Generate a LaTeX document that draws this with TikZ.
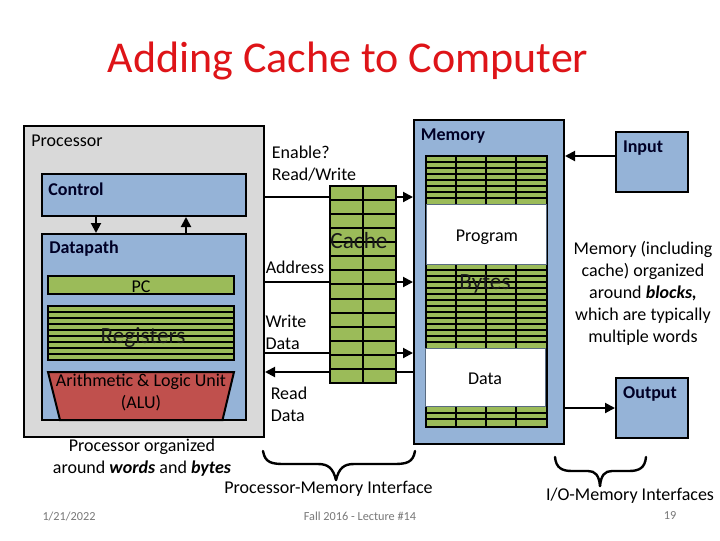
\documentclass[tikz,border=0pt]{standalone}
\usepackage{fontspec}
\setmainfont{Carlito}
\usetikzlibrary{arrows.meta}
\definecolor{slideRed}{RGB}{222,20,24}
\definecolor{boxBlue}{RGB}{149,179,215}
\definecolor{regGreen}{RGB}{155,187,89}
\definecolor{aluRed}{RGB}{192,80,77}
\definecolor{procGray}{RGB}{217,217,217}
\definecolor{footGray}{RGB}{120,120,120}
\tikzset{
  pxbox/.style 2 args={draw=black,line width=1.5pt,inner sep=0pt,minimum width=#1*0.75pt,minimum height=#2*0.75pt},
  label/.style={font=\fontsize{13.5}{16.5}\selectfont,align=center,text=black},
  head/.style={font=\fontsize{13.5}{16.5}\selectfont\bfseries,text=black!85!blue},
  overtext/.style={font=\fontsize{17.4}{20}\selectfont,text=black!90},
  foot/.style={font=\fontsize{9.2}{11}\selectfont,text=footGray},
  wire/.style={line width=1.5pt,-{Triangle[length=7.5pt,width=7.5pt]}},
  rule/.style={line width=1.5pt},
  brace/.style={line width=1.8pt,line cap=round}
}
\begin{document}
\begin{tikzpicture}[x=0.75pt,y=0.75pt,yscale=-1,xscale=1]
\useasboundingbox (0,0) rectangle (720,540);

% Title
\node (title) at (348,61) {\fontsize{33}{40}\selectfont\color{slideRed}Adding Cache to Computer};

% Boxes
\node[pxbox={240}{311},fill=procGray] (processor) at (144,281.5) {};
\node[pxbox={204}{42},fill=boxBlue] (control) at (144,195) {};
\node[pxbox={204}{186},fill=boxBlue] (datapath) at (144,327) {};
\node[pxbox={186}{18},fill=regGreen] (pc) at (141,285) {};
\node[pxbox={186}{54},fill=regGreen] (registers) at (141,333) {};
\node[pxbox={150}{324},fill=boxBlue] (memory) at (489,282) {};
\node[pxbox={72}{60},fill=boxBlue] (input) at (652,162) {};
\node[pxbox={72}{60},fill=boxBlue] (output) at (652,408) {};

% Anchors for the wires
\coordinate (ctlDown) at (96,216);
\coordinate (ctlUp) at (186,216);
\coordinate (enableY) at (264,197);
\coordinate (addressY) at (264,282);
\coordinate (writeY) at (264,353);
\coordinate (readY) at (264,372);
\coordinate (inputY) at (564,156);
\coordinate (outputY) at (564,408);

% Registers
\foreach \y in {312,318,...,354} {
  \draw[rule] (48,\y) -- (234,\y);
}
% ALU
\draw[line width=1.5pt,fill=aluRed] (48,372) -- (234,372) -- (222.5,420) -- (60,420) -- cycle;

% Wires
\draw[wire] (control.south -| ctlDown) -- (datapath.north -| ctlDown);
\draw[wire] (datapath.north -| ctlUp) -- (control.south -| ctlUp);
\draw[wire] (processor.east |- enableY) -- (memory.west |- enableY);
\draw[wire] (processor.east |- addressY) -- (memory.west |- addressY);
\draw[wire] (processor.east |- writeY) -- (memory.west |- writeY);
\draw[wire] (memory.west |- readY) -- (processor.east |- readY);
\draw[wire] (input.west |- inputY) -- (memory.east |- inputY);
\draw[wire] (memory.east |- outputY) -- (output.west |- outputY);

% Cache
\node[pxbox={66}{197},fill=regGreen] (cache) at (363,284.5) {};
\foreach \i in {1,...,13} {
  \draw[rule] (330,186+14.07*\i) -- (396,186+14.07*\i);
}
\draw[rule] (363,186) -- (363,383);

% Memory cells
\node[pxbox={121}{271},fill=regGreen] (cells) at (486,291.5) {};
\foreach \y in {162,168,...,198,270,276,...,342,413,419} {
  \draw[rule] (426,\y) -- (546,\y);
}
\foreach \x in {456,486,516} {
  \draw[rule] (\x,156) -- (\x,427);
}
\node[fill=white,draw=boxBlue!60!black,line width=0.75pt,inner sep=0pt,minimum width=90pt,minimum height=45pt] (program) at (486,234) {};
\node[fill=white,draw=boxBlue!60!black,line width=0.75pt,inner sep=0pt,minimum width=90pt,minimum height=44pt] (datablock) at (485,377.5) {};

% Braces
\coordinate (pmLeft) at (263,451);
\coordinate (pmRight) at (415,451);
\coordinate (pmTip) at (336,480);
\coordinate (ioLeft) at (555,457);
\coordinate (ioRight) at (646,457);
\coordinate (ioTip) at (600,486);
\draw[brace] (pmLeft) .. controls (265,463) and (272,464) .. (285,464) -- (318,464) .. controls (328,464) and (333,468) .. (pmTip);
\draw[brace] (pmRight) .. controls (413,463) and (406,464) .. (393,464) -- (354,464) .. controls (344,464) and (339,468) .. (pmTip);
\draw[brace] (ioLeft) .. controls (556,468) and (562,471) .. (572,471) -- (588,471) .. controls (595,471) and (599,475) .. (ioTip);
\draw[brace] (ioRight) .. controls (645,468) and (639,471) .. (629,471) -- (612,471) .. controls (605,471) and (601,475) .. (ioTip);

% Text Node
\node[label] (processorText) at (67,141) {Processor};
\node[head] (controlText) at (76,189) {Control};
\node[head] (datapathText) at (84,249) {Datapath};
\node[label] (pcText) at (141,287) {PC};
\node[overtext] (registersText) at (143,338) {Registers};
\node[label] (aluText) at (141,392.5) {Arithmetic \& Logic Unit\\(ALU)};
\node[label,align=left] (enableText) at (314,164) {Enable?\\Read/Write};
\node[overtext] (cacheText) at (359,241) {Cache};
\node[label] (addressText) at (295,267) {Address};
\node[label,align=left] (writeText) at (286,332) {Write\\Data};
\node[label,align=left] (readText) at (289,404) {Read\\Data};
\node[head] (memoryText) at (453,136) {Memory};
\node[label] (programText) at (487,237) {Program};
\node[overtext] (bytesText) at (485,284) {Bytes};
\node[label] (dataText) at (485,379) {Data};
\node[head] (inputText) at (643,148) {Input};
\node[head] (outputText) at (650,394) {Output};
\node[label] (blocksText) at (643,293) {Memory (including\\cache) organized\\around \textbf{\textit{blocks,}}\\which are typically\\multiple words};
\node[label] (wordsText) at (142,458) {Processor organized\\around \textbf{\textit{words}} and \textbf{\textit{bytes}}};
\node[label] (pmText) at (328.5,489) {Processor-Memory Interface};
\node[label] (ioText) at (630,496) {I/O-Memory Interfaces};
\node[foot] (dateText) at (69,516) {1/21/2022};
\node[foot] (lectureText) at (360,516) {Fall 2016 - Lecture \#14};
\node[foot] (pageText) at (670,516) {19};

\end{tikzpicture}
\end{document}
